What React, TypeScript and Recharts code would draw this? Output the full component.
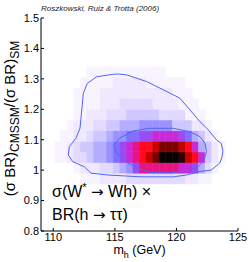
import { ComposedChart, XAxis, YAxis, ReferenceArea, Scatter } from 'recharts';

const FONT = '"Liberation Sans", Arial, Helvetica, sans-serif';

// histogram bins: 30 columns over m_h, rows of 0.035 in the ratio
const X_BIN_START = 109;
const X_BIN_WIDTH = 16 / 30;
const Y_BIN_HEIGHT = 0.035;

// density levels per row (0 = empty ... 15 = peak), column 0 starts at 109 GeV
const row0955 = [0,0,0,0,0,0,1,1,1,2,2,2,2,3,3,3,3,3,3,3,3,3,2,2,1,1,0,0,0,0];
const row0990 = [0,0,0,0,0,1,2,2,2,3,3,4,5,6,8,10,10,10,10,10,10,9,9,8,5,3,1,0,0,0];
const row1025 = [0,0,1,1,2,3,3,4,5,5,6,7,8,9,10,11,12,13,15,15,15,14,12,11,9,4,2,1,0,0];
const row1060 = [0,0,1,1,2,3,4,4,5,5,6,7,8,9,10,11,11,12,13,13,13,12,11,9,5,4,2,1,0,0];
const row1095 = [0,0,0,1,1,2,2,3,4,4,5,6,6,7,7,8,8,9,9,9,9,8,7,5,4,2,1,0,0,0];
const row1130 = [0,0,0,0,1,2,2,2,3,3,4,4,5,5,5,6,6,6,6,6,4,4,4,2,2,1,0,0,0,0];
const row1165 = [0,0,0,0,0,1,1,2,2,2,3,3,3,4,4,4,4,4,3,3,3,3,1,1,1,0,0,0,0,0];
const row1200 = [0,0,0,0,0,1,1,1,1,2,2,2,3,3,3,3,3,2,2,2,2,1,1,1,0,0,0,0,0,0];
const row1235 = [0,0,0,0,0,1,1,1,1,2,2,2,2,2,2,2,2,2,2,2,1,1,1,0,0,0,0,0,0,0];
const row1270 = [0,0,0,0,0,0,1,1,1,1,1,2,2,2,2,2,1,1,1,1,1,1,0,0,0,0,0,0,0,0];
const row1305 = [0,0,0,0,0,0,0,1,1,1,1,1,1,1,1,1,1,1,1,0,0,0,0,0,0,0,0,0,0,0];

const heatRows = [
  { y0: 0.955, levels: row0955 },
  { y0: 0.99, levels: row0990 },
  { y0: 1.025, levels: row1025 },
  { y0: 1.06, levels: row1060 },
  { y0: 1.095, levels: row1095 },
  { y0: 1.13, levels: row1130 },
  { y0: 1.165, levels: row1165 },
  { y0: 1.2, levels: row1200 },
  { y0: 1.235, levels: row1235 },
  { y0: 1.27, levels: row1270 },
  { y0: 1.305, levels: row1305 },
];

const palette = [
  'none', '#f8f4ff', '#efe8ff', '#e2daff', '#cfc7ff', '#b5adff', '#9a92ff', '#7f70ff',
  '#9a4cf2', '#c82ad8', '#e81484', '#ff0a1e', '#c80000', '#7a0000', '#300000', '#050000',
];

// 68% and 95% contours
const outerContour = [
  { x: 115.28, y: 1.316 }, { x: 115.96, y: 1.313 }, { x: 117.59, y: 1.291 }, { x: 119.48, y: 1.253 },
  { x: 120.29, y: 1.236 }, { x: 121.1, y: 1.198 }, { x: 121.91, y: 1.159 }, { x: 122.46, y: 1.138 },
  { x: 123.27, y: 1.099 }, { x: 123.64, y: 1.088 }, { x: 123.78, y: 1.061 }, { x: 123.68, y: 1.04 },
  { x: 123.52, y: 1.023 }, { x: 122.81, y: 1.0 }, { x: 121.91, y: 0.996 }, { x: 120.83, y: 0.984 },
  { x: 119.75, y: 0.978 }, { x: 117.12, y: 0.978 }, { x: 114.42, y: 0.984 }, { x: 113.06, y: 0.99 },
  { x: 112.52, y: 1.011 }, { x: 111.57, y: 1.028 }, { x: 111.22, y: 1.05 }, { x: 111.3, y: 1.077 },
  { x: 111.84, y: 1.105 }, { x: 112.17, y: 1.138 }, { x: 112.31, y: 1.198 }, { x: 112.44, y: 1.253 },
  { x: 112.76, y: 1.285 }, { x: 113.52, y: 1.307 }, { x: 114.87, y: 1.315 }, { x: 115.28, y: 1.316 },
];
const innerContour = [
  { x: 117.85, y: 1.1375 }, { x: 119.75, y: 1.1375 }, { x: 121.1, y: 1.126 }, { x: 121.91, y: 1.11 },
  { x: 122.32, y: 1.088 }, { x: 122.44, y: 1.061 }, { x: 122.24, y: 1.033 }, { x: 121.75, y: 1.011 },
  { x: 120.94, y: 0.997 }, { x: 119.48, y: 0.991 }, { x: 117.85, y: 0.992 }, { x: 116.85, y: 1.007 },
  { x: 115.77, y: 1.03 }, { x: 115.09, y: 1.06 }, { x: 114.95, y: 1.083 }, { x: 115.36, y: 1.105 },
  { x: 116.5, y: 1.129 }, { x: 117.85, y: 1.1375 },
];

const xTicks = [110, 115, 120, 125];
const yTicks = [0.8, 0.9, 1.0, 1.1, 1.2, 1.3, 1.4, 1.5];

const tickStyle = { fill: '#000', fontSize: 11, fontFamily: FONT };
const ARROW_FONT = '"DejaVu Sans", sans-serif';

function YLabel(props: any) {
  const vb = props.viewBox || { x: 0, y: 18, width: 41, height: 213 };
  const cx = vb.x + 15;
  const cy = vb.y + vb.height / 2 - 6;
  return (
    <text
      x={cx}
      y={cy}
      transform={`rotate(-90, ${cx}, ${cy})`}
      textAnchor="middle"
      fontFamily={FONT}
      fontSize={15}
      fill="#000"
    >
      (σ BR)<tspan dy={4} fontSize={12}>CMSSM</tspan>
      <tspan dy={-4}>/(σ BR)</tspan>
      <tspan dy={4} fontSize={12}>SM</tspan>
    </text>
  );
}

function XLabel(props: any) {
  const vb = props.viewBox || { x: 41, y: 231, width: 197, height: 31 };
  const cx = vb.x + vb.width / 2;
  return (
    <text x={cx} y={vb.y + 23} textAnchor="middle" fontFamily={FONT} fontSize={12.5} fill="#000">
      m<tspan dy={3.5} fontSize={9}>h</tspan>
      <tspan dy={-3.5}> (GeV)</tspan>
    </text>
  );
}

const noDot = () => <g />;

export default function App() {
  const cells: any[] = [];
  heatRows.forEach((row) => {
    row.levels.forEach((lv, c) => {
      if (!lv) return;
      const x1 = X_BIN_START + c * X_BIN_WIDTH;
      cells.push(
        <ReferenceArea
          key={`${row.y0}-${c}`}
          x1={x1}
          x2={x1 + X_BIN_WIDTH}
          y1={row.y0}
          y2={row.y0 + Y_BIN_HEIGHT}
          fill={palette[lv]}
          fillOpacity={1}
          stroke={palette[lv]}
          strokeWidth={0.6}
        />
      );
    });
  });

  return (
    <div style={{ position: 'absolute', left: 0, top: 0, width: 249, height: 262, background: '#fff' }}>
      <ComposedChart width={249} height={262} margin={{ top: 18, right: 11, bottom: 0, left: 0 }}>
        <XAxis
          dataKey="x"
          type="number"
          domain={[109, 125]}
          ticks={xTicks}
          interval={0}
          allowDataOverflow
          height={31}
          stroke="#000"
          tickSize={-3}
          tickMargin={5}
          tick={tickStyle}
          label={XLabel}
        />
        <XAxis
          xAxisId="top"
          orientation="top"
          type="number"
          domain={[109, 125]}
          ticks={xTicks}
          interval={0}
          allowDataOverflow
          height={0}
          stroke="#000"
          tickSize={-3}
          tick={false}
        />
        <YAxis
          dataKey="y"
          type="number"
          domain={[0.8, 1.5]}
          ticks={yTicks}
          interval={0}
          allowDataOverflow
          width={41}
          stroke="#000"
          tickSize={-3}
          tickMargin={5}
          tick={tickStyle}
          tickFormatter={(v: number) => String(Math.round(v * 10) / 10)}
          label={YLabel}
        />
        <YAxis
          yAxisId="right"
          orientation="right"
          type="number"
          domain={[0.8, 1.5]}
          ticks={yTicks}
          interval={0}
          allowDataOverflow
          width={0}
          stroke="#000"
          tickSize={-3}
          tick={false}
        />
        {cells}
        <Scatter
          data={outerContour}
          line={{ stroke: '#4f66f5', strokeWidth: 1 }}
          shape={noDot}
          isAnimationActive={false}
        />
        <Scatter
          data={innerContour}
          line={{ stroke: '#4f66f5', strokeWidth: 1 }}
          shape={noDot}
          isAnimationActive={false}
        />
      </ComposedChart>
      <svg
        width={249}
        height={262}
        style={{ position: 'absolute', left: 0, top: 0, pointerEvents: 'none' }}
      >
        <text x={41} y={10.5} fontFamily={FONT} fontSize={8} fontStyle="italic" fill="#222">
          Roszkowski, Ruiz &amp; Trotta (2006)
        </text>
        <text x={52} y={197} fontFamily={FONT} fontSize={16} fill="#000">
          σ(W<tspan dy={-6} fontSize={11}>*</tspan>
          <tspan dy={6}> </tspan>
          <tspan fontFamily={ARROW_FONT} fontSize={15}>→</tspan>
          <tspan> Wh) ×</tspan>
        </text>
        <text x={52} y={219.5} fontFamily={FONT} fontSize={16} fill="#000">
          BR(h <tspan fontFamily={ARROW_FONT} fontSize={15}>→</tspan> ττ)
        </text>
      </svg>
    </div>
  );
}
